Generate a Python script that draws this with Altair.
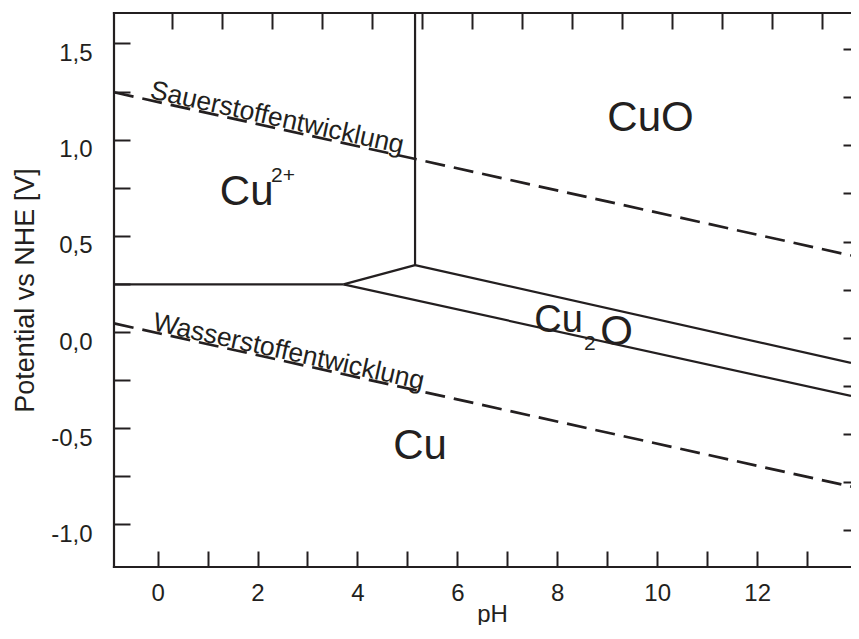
import altair as alt
import pandas as pd

FONT = "Liberation Sans"
INK = "#231f20"

# ---- axis ranges -------------------------------------------------------
PH_MIN, PH_MAX = -0.873, 13.879
E_MIN, E_MAX = -1.221, 1.658

# ---- ticks --------------------------------------------------------------
x_tick_values = list(range(0, 14))
x_tick_labels = ["0", "", "2", "", "4", "", "6", "", "8", "", "10", "", "12", ""]
y_tick_values = [-1.0, -0.75, -0.5, -0.25, 0.0, 0.25, 0.5, 0.75, 1.0, 1.25, 1.5]
y_tick_labels = ["-1,0", "", "-0,5", "", "0,0", "", "0,5", "", "1,0", "", "1,5"]
top_tick_values = [0.29 + k for k in range(14)]
right_tick_values = [v - 0.03 for v in y_tick_values]

# ---- phase boundaries (solid) -------------------------------------------
seg_names = ["Cu2+/Cu", "Cu2+/Cu2O", "Cu2+/CuO", "Cu2O/CuO", "Cu/Cu2O"]
seg_ph = [[-0.873, 3.72], [3.72, 5.153], [5.153, 5.153], [5.153, 13.879], [3.72, 13.879]]
seg_e = [[0.248, 0.248], [0.248, 0.348], [0.348, 1.658], [0.348, -0.160], [0.248, -0.332]]

# ---- water stability lines (dashed) -------------------------------------
water_names = ["O2", "H2"]
water_ph = [[-0.873, 13.879], [-0.873, 13.879]]
water_e = [[1.246, 0.398], [0.045, -0.803]]

# ---- region labels -------------------------------------------------------
region_text = ["Cu", "CuO", "Cu", "Cu", "O"]
region_ph = [1.783, 9.866, 5.252, 8.024, 9.189]
region_e = [0.660, 1.046, -0.660, 0.0, -0.068]
region_fs = [42, 42, 42, 38, 42]

script_text = ["2+", "2"]
script_ph = [2.27, 8.535]
script_e = [0.781, -0.094]
script_fs = [21, 21]

line_text = ["Sauerstoffentwicklung", "Wasserstoffentwicklung"]
line_ph = [-0.172, -0.118]
line_e = [1.216, 0.010]

# ---- frame ---------------------------------------------------------------
frame_x = [PH_MIN, PH_MIN, PH_MIN]
frame_x2 = [PH_MIN, PH_MAX, PH_MAX]
frame_y = [E_MIN, E_MAX, E_MIN]
frame_y2 = [E_MAX, E_MAX, E_MIN]


def label_expr(values, labels):
    expr = "''"
    for v, l in zip(values, labels):
        expr = f"abs(datum.value - ({v})) < 1e-6 ? '{l}' : " + expr
    return expr


def seg_frame(names, phs, es):
    rows = []
    for n, p, e in zip(names, phs, es):
        for i, (pp, ee) in enumerate(zip(p, e)):
            rows.append({"seg": n, "i": i, "pH": pp, "E": ee})
    return pd.DataFrame(rows)


solid_df = seg_frame(seg_names, seg_ph, seg_e)
water_df = seg_frame(water_names, water_ph, water_e)
region_df = pd.DataFrame({"t": region_text, "pH": region_ph, "E": region_e, "fs": region_fs})
script_df = pd.DataFrame({"t": script_text, "pH": script_ph, "E": script_e, "fs": script_fs})
line_df = pd.DataFrame({"t": line_text, "pH": line_ph, "E": line_e})
frame_df = pd.DataFrame({"x": frame_x, "x2": frame_x2, "y": frame_y, "y2": frame_y2})

xscale = alt.Scale(domain=[PH_MIN, PH_MAX], nice=False, zero=False)
yscale = alt.Scale(domain=[E_MIN, E_MAX], nice=False, zero=False)

common_axis = dict(
    domain=False, grid=False, tickColor=INK, tickWidth=2,
    labelFont=FONT, labelColor=INK, labelOverlap=False, labelFlush=False,
    titleFont=FONT, titleColor=INK, titleFontWeight="normal",
)

x_bottom = alt.Axis(
    orient="bottom", values=x_tick_values, labelExpr=label_expr(x_tick_values, x_tick_labels),
    tickSize=16, offset=-16, labelPadding=14, labelFontSize=24,
    title="pH", titleFontSize=24, titleBaseline="alphabetic", titleY=70,
    titleX=378, titleAlign="center", **common_axis,
)
y_left = alt.Axis(
    orient="left", values=y_tick_values, labelExpr=label_expr(y_tick_values, y_tick_labels),
    tickSize=16, offset=-16, labelPadding=22, labelFontSize=24,
    labelBaseline="top", labelOffset=-2,
    title="Potential vs NHE [V]", titleFontSize=27, titleBaseline="alphabetic", titleX=-97,
    **common_axis,
)
x_top = alt.Axis(
    orient="top", values=top_tick_values, labels=False, tickSize=16, offset=-16,
    title=None, **common_axis,
)
y_right = alt.Axis(
    orient="right", values=right_tick_values, labels=False, tickSize=8, offset=-8,
    title=None, **common_axis,
)

solid = alt.Chart(solid_df).mark_line(color=INK, strokeWidth=2.2).encode(
    x=alt.X("pH:Q", scale=xscale, axis=x_bottom),
    y=alt.Y("E:Q", scale=yscale, axis=y_left),
    detail="seg:N",
    order="i:Q",
)

water = alt.Chart(water_df).mark_line(color=INK, strokeWidth=2.7, strokeDash=[20, 9]).encode(
    x=alt.X("pH:Q", scale=xscale, axis=x_top),
    y=alt.Y("E:Q", scale=yscale, axis=y_right),
    detail="seg:N",
    order="i:Q",
)

frame = alt.Chart(frame_df).mark_rule(color=INK, strokeWidth=2.2, strokeCap="square").encode(
    x=alt.X("x:Q", scale=xscale, axis=None),
    x2="x2:Q",
    y=alt.Y("y:Q", scale=yscale, axis=None),
    y2="y2:Q",
)

regions = alt.Chart(region_df).mark_text(
    align="center", baseline="alphabetic", font=FONT, color=INK
).encode(
    x=alt.X("pH:Q", scale=xscale, axis=None),
    y=alt.Y("E:Q", scale=yscale, axis=None),
    text="t:N",
    size=alt.Size("fs:Q", scale=None, legend=None),
)

scripts = alt.Chart(script_df).mark_text(
    align="left", baseline="alphabetic", font=FONT, color=INK
).encode(
    x=alt.X("pH:Q", scale=xscale, axis=None),
    y=alt.Y("E:Q", scale=yscale, axis=None),
    text="t:N",
    size=alt.Size("fs:Q", scale=None, legend=None),
)

line_labels = alt.Chart(line_df).mark_text(
    align="left", baseline="alphabetic", font=FONT, color=INK, fontSize=26.5, angle=12.4
).encode(
    x=alt.X("pH:Q", scale=xscale, axis=None),
    y=alt.Y("E:Q", scale=yscale, axis=None),
    text="t:N",
)

chart = alt.layer(solid, water, frame, regions, scripts, line_labels).resolve_axis(
    x="independent", y="independent"
).properties(
    width=737, height=554,
    padding={"left": 106, "top": 5, "right": 0, "bottom": 58},
    autosize=alt.AutoSizeParams(type="none"),
).configure_view(stroke=None)

chart.save("out.html", embed_options={"renderer": "svg", "actions": False})
